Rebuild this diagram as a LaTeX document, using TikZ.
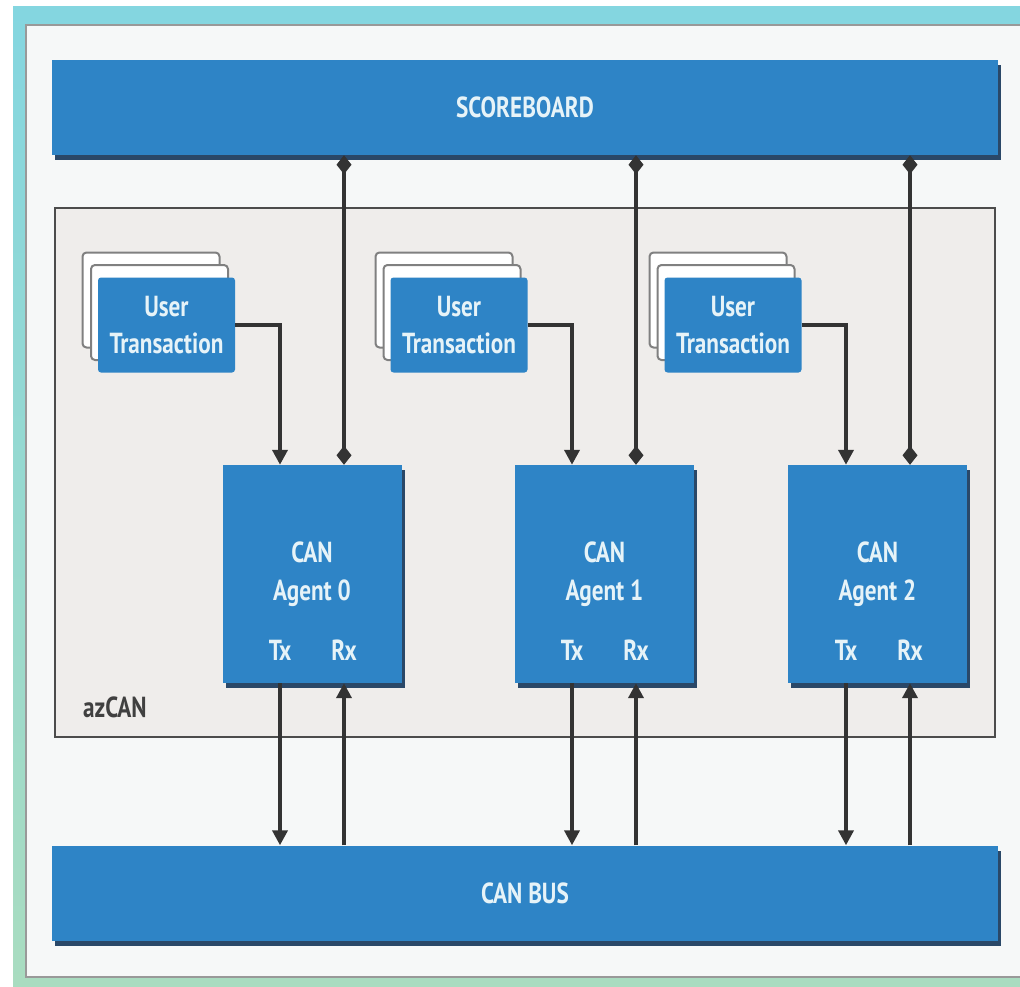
\documentclass[tikz,border=0pt]{standalone}
\usepackage{fontspec}
\setmainfont{PT Sans}[FakeStretch=0.8]
\usetikzlibrary{arrows.meta}
\usetikzlibrary{positioning}
\usetikzlibrary{calc}
\usetikzlibrary{shadows}
\definecolor{canblue}{HTML}{2E84C6}
\definecolor{canedge}{HTML}{2A4868}
\definecolor{cantext}{HTML}{E6F3F8}
\definecolor{panelgray}{HTML}{EFEDEB}
\definecolor{panelbg}{HTML}{F6F8F8}
\definecolor{linkgray}{HTML}{333333}
\definecolor{framecyan}{HTML}{84D6E0}
\definecolor{framegreen}{HTML}{A9DCC0}
\tikzset{
    block/.style={fill=canblue, text=cantext, inner sep=0pt, align=center,
        font=\fontsize{29}{38}\selectfont\bfseries,
        drop shadow={shadow xshift=3pt, shadow yshift=-5pt, fill=canedge, opacity=1}},
    bus/.style={block, minimum width=946pt, minimum height=95pt},
    agent/.style={block, minimum width=179pt, minimum height=218pt},
    usertx/.style={fill=canblue, text=cantext, inner sep=0pt, align=center,
        font=\fontsize{29}{37}\selectfont\bfseries, rounded corners=3pt,
        minimum width=137pt, minimum height=95pt},
    card/.style={fill=white, draw=black!50, line width=2pt, rounded corners=4pt,
        minimum width=137pt, minimum height=95pt},
    portlabel/.style={text=cantext, inner sep=0pt, anchor=base,
        font=\fontsize{29}{32}\selectfont\bfseries},
    link/.style={draw=linkgray, line width=4.5pt},
    txlink/.style={link, -{Triangle[length=15pt,width=15pt]}},
    sblink/.style={link, {Diamond[length=19pt,width=15pt]}-{Diamond[length=19pt,width=15pt]}},
}
\begin{document}
\begin{tikzpicture}[x=1pt, y=-1pt]
	\useasboundingbox (0,0) rectangle (1020,987);
	% frame
	\fill[top color=framecyan, bottom color=framegreen] (13,7) rectangle (1030,987);
	\draw[draw=gray!80, fill=panelbg, line width=1.5pt] (26,25) rectangle (1030,977);
	\node[draw=gray!60!black, line width=2pt, fill=panelgray, minimum width=940pt, minimum height=529pt] (azcan) at (525,472.5) {};
	\node[anchor=base west, inner sep=0pt, text=black!75, font=\fontsize{29}{32}\selectfont\bfseries] (azlabel) at (83,717) {azCAN};
	% buses
	\node[bus] (sb) at (525,107.5) {SCOREBOARD};
	\node[bus] (canbus) at (525,893) {CAN BUS};
	% user transactions
	\node[card] (ut0b) at (151,300) {};
	\node[card] (ut0m) at (159.5,312.5) {};
	\node[usertx] (ut0) at (166.5,325) {User\\Transaction};
	\node[card] (ut1b) at (444,300) {};
	\node[card] (ut1m) at (452,312.5) {};
	\node[usertx] (ut1) at (459,325) {User\\Transaction};
	\node[card] (ut2b) at (718,300) {};
	\node[card] (ut2m) at (726,312.5) {};
	\node[usertx] (ut2) at (733,325) {User\\Transaction};
	% agents
	\node[agent] (a0) at (312,574) {CAN\\Agent 0};
	\node[agent] (a1) at (604.5,574) {CAN\\Agent 1};
	\node[agent] (a2) at (877.5,574) {CAN\\Agent 2};
	\node[portlabel] (tx0) at (280,660) {Tx};
	\node[portlabel] (rx0) at (344,660) {Rx};
	\node[portlabel] (tx1) at (572,660) {Tx};
	\node[portlabel] (rx1) at (636,660) {Rx};
	\node[portlabel] (tx2) at (846,660) {Tx};
	\node[portlabel] (rx2) at (910,660) {Rx};
	% connectors
	\draw[txlink] (ut0.east) -| (tx0 |- a0.north);
	\draw[txlink] (ut1.east) -| (tx1 |- a1.north);
	\draw[txlink] (ut2.east) -| (tx2 |- a2.north);
	\draw[sblink] (rx0 |- sb.south) -- (rx0 |- a0.north);
	\draw[sblink] (rx1 |- sb.south) -- (rx1 |- a1.north);
	\draw[sblink] (rx2 |- sb.south) -- (rx2 |- a2.north);
	\draw[txlink] (tx0 |- a0.south) -- (tx0 |- canbus.north);
	\draw[txlink] (tx1 |- a1.south) -- (tx1 |- canbus.north);
	\draw[txlink] (tx2 |- a2.south) -- (tx2 |- canbus.north);
	\draw[txlink] (rx0 |- canbus.north) -- (rx0 |- a0.south);
	\draw[txlink] (rx1 |- canbus.north) -- (rx1 |- a1.south);
	\draw[txlink] (rx2 |- canbus.north) -- (rx2 |- a2.south);
\end{tikzpicture}
\end{document}
